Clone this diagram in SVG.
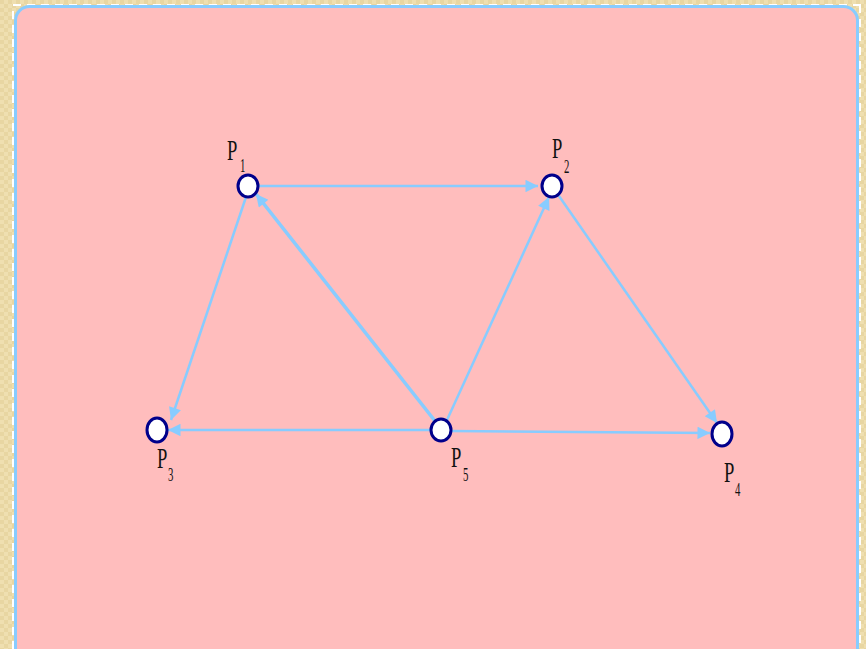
<svg xmlns="http://www.w3.org/2000/svg" width="866" height="649" viewBox="0 0 866 649">
<defs>
<pattern id="tex" width="8" height="8" patternUnits="userSpaceOnUse">
<rect width="8" height="8" fill="#efdfb0"/>
<rect width="4" height="4" fill="#e8d6a2"/>
<rect x="4" y="4" width="4" height="4" fill="#e8d6a2"/>
</pattern>
<marker id="arr" viewBox="0 0 10 10" refX="10" refY="5" markerWidth="6.5" markerHeight="5" orient="auto" markerUnits="strokeWidth">
<path d="M0,0 L10,5 L0,10 Z" fill="#88ccff"/>
</marker>
<marker id="arr2" viewBox="0 0 10 10" refX="10" refY="5" markerWidth="4.5" markerHeight="3.5" orient="auto" markerUnits="strokeWidth">
<path d="M0,0 L10,5 L0,10 Z" fill="#88ccff"/>
</marker>
</defs>
<style>
.edge{stroke:#88ccff;stroke-width:2.5;fill:none;marker-end:url(#arr)}
.node{fill:#ffffff;stroke:#00008b;stroke-width:3}
.lbl{font-family:"Liberation Serif",serif;font-size:30px;fill:#111}
.sub{font-family:"Liberation Serif",serif;font-size:18px;fill:#111}
</style>
<rect width="866" height="649" fill="url(#tex)"/>
<path d="M13,649 L13,5 L866,5" fill="none" stroke="#ffffff" stroke-width="2" stroke-dasharray="8,6"/>
<path d="M860,5 L860,649" fill="none" stroke="#ffffff" stroke-width="2" stroke-dasharray="8,6"/>
<rect x="15.5" y="6.5" width="842" height="660" rx="14" fill="#ffbdbd" stroke="#88ccff" stroke-width="3"/>
<g id="connectors">
<line class="edge" x1="259" y1="186" x2="538" y2="186"/>
<line class="edge" x1="246" y1="197" x2="171" y2="420"/>
<line class="edge" x1="435" y1="421" x2="256" y2="194" style="stroke-width:3.5;marker-end:url(#arr2)"/>
<line class="edge" x1="447" y1="420" x2="549" y2="197"/>
<line class="edge" x1="559" y1="196" x2="717" y2="423"/>
<line class="edge" x1="431" y1="430" x2="168" y2="430"/>
<line class="edge" x1="451" y1="431" x2="710" y2="433"/>
</g>
<g id="P1"><ellipse class="node" cx="248" cy="186" rx="10" ry="11"/>
<text class="lbl" transform="translate(227,160) scale(0.62,1)">P</text>
<text class="sub" transform="translate(240,172) scale(0.6,1)">1</text></g>
<g id="P2"><ellipse class="node" cx="552" cy="186" rx="10" ry="11"/>
<text class="lbl" transform="translate(552,158) scale(0.62,1)">P</text>
<text class="sub" transform="translate(564,173) scale(0.6,1)">2</text></g>
<g id="P3"><ellipse class="node" cx="157" cy="430" rx="10" ry="12"/>
<text class="lbl" transform="translate(157,468) scale(0.62,1)">P</text>
<text class="sub" transform="translate(168,481) scale(0.6,1)">3</text></g>
<g id="P5"><ellipse class="node" cx="441" cy="430" rx="10" ry="11"/>
<text class="lbl" transform="translate(451,467) scale(0.62,1)">P</text>
<text class="sub" transform="translate(463,481) scale(0.6,1)">5</text></g>
<g id="P4"><ellipse class="node" cx="722" cy="434" rx="10" ry="12"/>
<text class="lbl" transform="translate(724,482) scale(0.62,1)">P</text>
<text class="sub" transform="translate(735,496) scale(0.6,1)">4</text></g>
</svg>
